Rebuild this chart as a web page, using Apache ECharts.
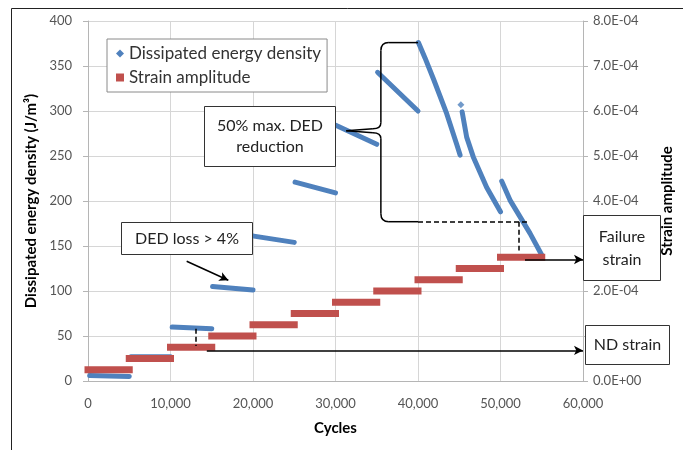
<!DOCTYPE html>
<html>
<head>
<meta charset="utf-8">
<script src="https://cdn.jsdelivr.net/npm/echarts@6/dist/echarts.min.js"></script>
<style>
html, body { margin: 0; padding: 0; background: #fff; }
#chart { width: 683px; height: 450px; }
</style>
</head>
<body>
<div id="chart"></div>
<script>
// dissipated energy density readings, one list per loading block [cycles, J/m3]
const dedBlocks = [
  [[200, 6], [5000, 5]],
  [[5200, 27], [10000, 27]],
  [[10200, 60], [15000, 58]],
  [[15100, 105], [20000, 101]],
  [[20100, 161], [25000, 154]],
  [[25100, 221], [30000, 209]],
  [[30100, 284], [35000, 263]],
  [[35100, 343], [40000, 300]],
  [[40050, 376], [40850, 359], [41900, 335], [43480, 297], [44690, 263], [45100, 251]],
  [[45350, 299], [45900, 271], [46700, 249], [48330, 215], [50000, 188]],
  [[50150, 222], [51150, 201], [53580, 164], [55000, 140]]
];
const dedLone = [[45200, 307]];

// strain amplitude steps
const strainStart = [0, 5000, 10000, 15000, 20000, 25000, 30000, 35000, 40000, 45000, 50000];
const strainEnd = [5000, 10000, 15000, 20000, 25000, 30000, 35000, 40000, 45000, 50000, 55000];
const strainValue = [2.5e-5, 5.0e-5, 7.5e-5, 1.0e-4, 1.25e-4, 1.5e-4, 1.75e-4, 2.0e-4, 2.25e-4, 2.5e-4, 2.75e-4];

// annotations, in cycles / J/m3
const arrows = [
  [11960, 133, 17010, 112],
  [14400, 34, 60000, 34],
  [52970, 135, 60000, 135]
];
const dashed = [
  [13100, 58, 13100, 39],
  [40000, 177, 53400, 177],
  [52240, 177, 52240, 145]
];
const brace = { x: 35500, xEnd: 40000, beakX: 31300, top: 376, mid: 278, bottom: 177 };

const FONT = 'Lato, "Liberation Sans", sans-serif';
const BLUE = '#4F81BD';
const RED = '#C0504D';

const dedData = [];
dedBlocks.forEach(b => {
  b.forEach(p => dedData.push(p));
  dedData.push([b[b.length - 1][0], '-']);
});
const strainData = [];
strainStart.forEach((s, i) => {
  strainData.push([s, strainValue[i]], [strainEnd[i], strainValue[i]], [strainEnd[i], '-']);
});

const chart = echarts.init(document.getElementById('chart'));
chart.setOption({
  animation: false,
  textStyle: { fontFamily: FONT },
  grid: { left: 88, right: 100, top: 21, bottom: 69 },
  legend: {
    orient: 'vertical',
    left: 107,
    top: 39,
    padding: [6, 6, 6, 9],
    itemGap: 7,
    itemWidth: 8,
    itemHeight: 8,
    borderColor: '#8a8a8a',
    borderWidth: 1,
    backgroundColor: '#fff',
    textStyle: { fontFamily: FONT, fontSize: 17, color: '#333' },
    data: [
      { name: 'Dissipated energy density', icon: 'diamond' },
      { name: 'Strain amplitude', icon: 'rect' }
    ]
  },
  xAxis: {
    type: 'value',
    min: 0,
    max: 60000,
    interval: 10000,
    name: 'Cycles',
    nameLocation: 'middle',
    nameGap: 40,
    nameTextStyle: { fontFamily: FONT, fontSize: 15, fontWeight: 'bold', color: '#000' },
    axisLine: { lineStyle: { color: '#b5b5b5' } },
    axisTick: { show: false },
    axisLabel: {
      margin: 16, fontSize: 13, color: '#555',
      formatter: v => v.toLocaleString('en-US')
    },
    splitLine: { lineStyle: { color: '#d6d6d6' } }
  },
  yAxis: [
    {
      type: 'value',
      min: 0,
      max: 400,
      interval: 50,
      name: 'Dissipated energy density (J/m\u00b3)',
      nameLocation: 'middle',
      nameRotate: 90,
      nameGap: 47,
      nameTextStyle: { fontFamily: FONT, fontSize: 15, fontWeight: 'bold', color: '#000' },
      axisLine: { show: true, lineStyle: { color: '#b5b5b5' } },
      axisTick: { show: true, length: 5, lineStyle: { color: '#b5b5b5' } },
      axisLabel: { margin: 16, fontSize: 13, color: '#555' },
      splitLine: { lineStyle: { color: '#d6d6d6' } }
    },
    {
      type: 'value',
      min: 0,
      max: 8e-4,
      interval: 1e-4,
      name: 'Strain amplitude',
      nameLocation: 'middle',
      nameRotate: 90,
      nameGap: 77,
      nameTextStyle: { fontFamily: FONT, fontSize: 15, fontWeight: 'bold', color: '#000' },
      axisLine: { show: true, lineStyle: { color: '#b5b5b5' } },
      axisTick: { show: true, length: 5, lineStyle: { color: '#b5b5b5' } },
      axisLabel: {
        margin: 10, fontSize: 13, color: '#555',
        formatter: v => {
          const [m, e] = v.toExponential(1).split('e');
          const n = Math.abs(+e);
          return m + 'E' + (+e < 0 ? '-' : '+') + (n < 10 ? '0' : '') + n;
        }
      },
      splitLine: { show: false }
    }
  ],
  series: [
    {
      name: 'Dissipated energy density',
      type: 'line',
      data: dedData,
      showSymbol: false,
      connectNulls: false,
      z: 2,
      lineStyle: { color: BLUE, width: 5, cap: 'round', join: 'round' },
      itemStyle: { color: BLUE }
    },
    {
      name: 'Dissipated energy density',
      type: 'scatter',
      data: dedLone,
      symbol: 'diamond',
      symbolSize: 7,
      z: 2,
      itemStyle: { color: BLUE }
    },
    {
      name: 'Strain amplitude',
      type: 'line',
      yAxisIndex: 1,
      data: strainData,
      showSymbol: false,
      connectNulls: false,
      z: 3,
      lineStyle: { color: RED, width: 7, cap: 'square' },
      itemStyle: { color: RED }
    },
    {
      name: 'annotations',
      type: 'line',
      data: [],
      z: 5,
      markLine: {
        silent: true,
        animation: false,
        label: { show: false },
        data: arrows.map(a => [
          { coord: [a[0], a[1]], symbol: 'none', lineStyle: { color: '#000', width: 1.5, type: 'solid' } },
          { coord: [a[2], a[3]], symbol: 'arrow', symbolSize: [7, 9] }
        ]).concat(dashed.map(d => [
          { coord: [d[0], d[1]], symbol: 'none', lineStyle: { color: '#000', width: 1.5, type: [5, 3] } },
          { coord: [d[2], d[3]], symbol: 'none' }
        ]))
      }
    }
  ]
});

function textBox(x, y, w, h, text, lh) {
  return {
    type: 'group',
    z: 100,
    children: [
      { type: 'rect', z: 100, shape: { x: x, y: y, width: w, height: h },
        style: { fill: '#fff', stroke: '#333', lineWidth: 1 } },
      { type: 'text', z: 101, style: {
          x: x + w / 2, y: y + h / 2, text: text, align: 'center', verticalAlign: 'middle',
          font: '16px ' + FONT, fill: '#222', lineHeight: lh } }
    ]
  };
}

// curly brace from DED max down to the 50 % level
function braceParts() {
  const p = v => chart.convertToPixel({ xAxisIndex: 0, yAxisIndex: 0 }, v);
  const [L, T] = p([brace.x, brace.top]);
  const R = p([brace.xEnd, brace.top])[0];
  const [P, M] = p([brace.beakX, brace.mid]);
  const B = p([brace.x, brace.bottom])[1];
  const r = 8;
  const st = { stroke: '#000', lineWidth: 1.5, fill: null };
  const ln = (x1, y1, x2, y2) => ({ type: 'line', z: 6, shape: { x1, y1, x2, y2 }, style: st });
  const qc = (x1, y1, cx, cy, x2, y2) => ({ type: 'bezierCurve', z: 6,
    shape: { x1, y1, cpx1: cx, cpy1: cy, x2, y2 }, style: st });
  return [
    ln(R, T, L + r, T),
    qc(L + r, T, L, T, L, T + r),
    ln(L, T + r, L, M - r),
    qc(L, M - r, L, M - 2, L - r, M - 2),
    ln(L - r, M - 2, P, M),
    ln(P, M, L - r, M + 2),
    qc(L - r, M + 2, L, M + 2, L, M + r),
    ln(L, M + r, L, B - r),
    qc(L, B - r, L, B, L + r, B),
    ln(L + r, B, R, B)
  ];
}

chart.setOption({
  graphic: {
    z: 100,
    elements: [
      { type: 'polyline', z: 100, shape: { points: [[11.5, 450], [11.5, 8.5], [683, 8.5]] },
        style: { stroke: '#222', lineWidth: 1, fill: null } }
    ].concat(braceParts(), [
      textBox(204.5, 106.5, 131, 60, '50% max. DED\nreduction', 21),
      textBox(121.5, 222.5, 131, 32, 'DED loss > 4%', 20),
      textBox(583.5, 215.5, 77, 65, 'Failure\nstrain', 23),
      textBox(585.5, 325.5, 84, 39, 'ND strain', 20)
    ])
  }
});
</script>
</body>
</html>
